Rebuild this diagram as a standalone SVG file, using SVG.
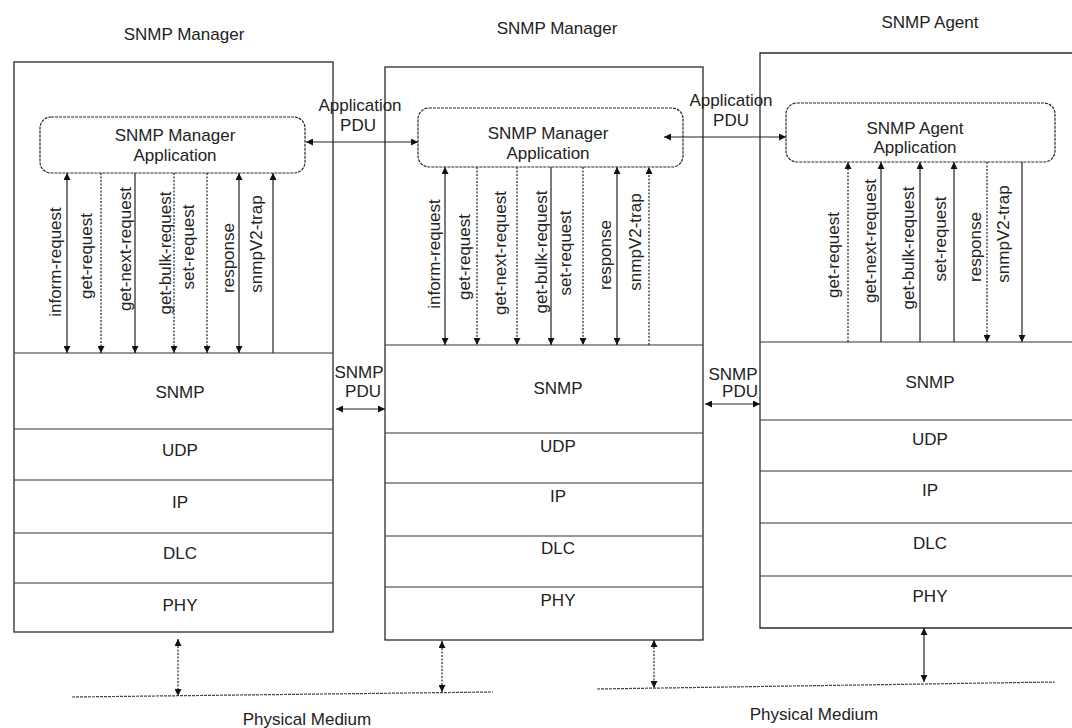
<svg xmlns="http://www.w3.org/2000/svg" width="1072" height="728" viewBox="0 0 1072 728">
<style>
text{font-family:"Liberation Sans",Arial,sans-serif;font-size:17px;fill:#222}
.c{text-anchor:middle}
.box{fill:none;stroke:#2a2a2a;stroke-width:1.3}
.app{fill:#fff;stroke:#2a2a2a;stroke-width:1.2;stroke-dasharray:3 1}
.lay{fill:none;stroke:#333;stroke-width:1.2}
.ln{fill:none;stroke:#222;stroke-width:1.2}
.dt{fill:none;stroke:#222;stroke-width:1.2;stroke-dasharray:2 1.5}
.med{fill:none;stroke:#444;stroke-width:1.2;stroke-dasharray:3 1}
</style>
<defs>
<marker id="ah" viewBox="0 0 8 8" refX="8" refY="4" markerWidth="7" markerHeight="7" orient="auto-start-reverse" markerUnits="userSpaceOnUse"><path d="M0,0 L8,4 L0,8 z" fill="#111"/></marker>
</defs>

<!-- Left SNMP Manager -->
<g id="manager1">
<text class="c" x="184" y="40">SNMP Manager</text>
<rect class="box" x="14" y="62" width="319" height="570"/>
<g id="manager1-app">
<rect class="app" x="40" y="117" width="265" height="56" rx="11"/>
<text class="c" x="175" y="141">SNMP Manager</text>
<text class="c" x="175" y="161">Application</text>
</g>
<g id="manager1-layers">
<path class="lay" d="M14,353H333M14,429H333M14,480H333M14,533H333M14,583H333"/>
<text class="c" x="180" y="398">SNMP</text>
<text class="c" x="180" y="456">UDP</text>
<text class="c" x="180" y="508">IP</text>
<text class="c" x="180" y="559">DLC</text>
<text class="c" x="180" y="611">PHY</text>
</g>
<g id="manager1-pdus">
<text class="c" transform="translate(61,262) rotate(-90)">inform-request</text>
<text class="c" transform="translate(92,256) rotate(-90)">get-request</text>
<text class="c" transform="translate(131,249) rotate(-90)">get-next-request</text>
<text class="c" transform="translate(171,253) rotate(-90)">get-bulk-request</text>
<text class="c" transform="translate(194,247) rotate(-90)">set-request</text>
<text class="c" transform="translate(234,258) rotate(-90)">response</text>
<text class="c" transform="translate(262,244) rotate(-90)">snmpV2-trap</text>
</g>
</g>

<!-- Middle SNMP Manager -->
<g id="manager2">
<text class="c" x="557" y="34">SNMP Manager</text>
<rect class="box" x="385" y="67" width="318" height="573"/>
<g id="manager2-app">
<rect class="app" x="418" y="108" width="265" height="59" rx="11"/>
<text class="c" x="548" y="139">SNMP Manager</text>
<text class="c" x="548" y="159">Application</text>
</g>
<g id="manager2-layers">
<path class="lay" d="M385,345H703M385,433H703M385,483H703M385,536H703M385,587H703"/>
<text class="c" x="558" y="394">SNMP</text>
<text class="c" x="558" y="452">UDP</text>
<text class="c" x="558" y="502">IP</text>
<text class="c" x="558" y="554">DLC</text>
<text class="c" x="558" y="606">PHY</text>
</g>
<g id="manager2-pdus">
<text class="c" transform="translate(440,254) rotate(-90)">inform-request</text>
<text class="c" transform="translate(470,257) rotate(-90)">get-request</text>
<text class="c" transform="translate(506,253) rotate(-90)">get-next-request</text>
<text class="c" transform="translate(547,252) rotate(-90)">get-bulk-request</text>
<text class="c" transform="translate(571,253) rotate(-90)">set-request</text>
<text class="c" transform="translate(611,255) rotate(-90)">response</text>
<text class="c" transform="translate(641,242) rotate(-90)">snmpV2-trap</text>
</g>
</g>

<!-- Right SNMP Agent -->
<g id="agent">
<text class="c" x="930" y="28">SNMP Agent</text>
<path class="box" d="M1072,53H760V628H1072"/>
<g id="agent-app">
<rect class="app" x="786" y="103" width="269" height="59" rx="11"/>
<text class="c" x="915" y="134">SNMP Agent</text>
<text class="c" x="915" y="153">Application</text>
</g>
<g id="agent-layers">
<path class="lay" d="M760,342H1072M760,420H1072M760,471H1072M760,523H1072M760,576H1072"/>
<text class="c" x="930" y="388">SNMP</text>
<text class="c" x="930" y="445">UDP</text>
<text class="c" x="930" y="496">IP</text>
<text class="c" x="930" y="549">DLC</text>
<text class="c" x="930" y="602">PHY</text>
</g>
<g id="agent-pdus">
<text class="c" transform="translate(839,255) rotate(-90)">get-request</text>
<text class="c" transform="translate(876,241) rotate(-90)">get-next-request</text>
<text class="c" transform="translate(914,248) rotate(-90)">get-bulk-request</text>
<text class="c" transform="translate(946,239) rotate(-90)">set-request</text>
<text class="c" transform="translate(981,247) rotate(-90)">response</text>
<text class="c" transform="translate(1009,234) rotate(-90)">snmpV2-trap</text>
</g>
</g>

<!-- Physical medium -->
<g id="medium1">
<path class="med" d="M72,697L493,692"/>
<text class="c" x="307" y="725">Physical Medium</text>
</g>
<g id="medium2">
<path class="med" d="M597,689L1055,682"/>
<text class="c" x="814" y="720">Physical Medium</text>
</g>

<g id="connectors">
<!-- manager1 PDU lines -->
<path class="ln" d="M67,173V353" marker-start="url(#ah)" marker-end="url(#ah)"/>
<path class="dt" d="M101,173V353" marker-end="url(#ah)"/>
<path class="ln" d="M135,173V353" marker-end="url(#ah)"/>
<path class="dt" d="M174,173V353" marker-end="url(#ah)"/>
<path class="dt" d="M207,173V353" marker-end="url(#ah)"/>
<path class="ln" d="M239,173V353" marker-start="url(#ah)" marker-end="url(#ah)"/>
<path class="ln" d="M273,353V173" marker-end="url(#ah)"/>
<!-- manager2 PDU lines -->
<path class="ln" d="M445,167V345" marker-start="url(#ah)" marker-end="url(#ah)"/>
<path class="dt" d="M477,167V345" marker-end="url(#ah)"/>
<path class="dt" d="M517,167V345" marker-end="url(#ah)"/>
<path class="ln" d="M551,167V345" marker-end="url(#ah)"/>
<path class="dt" d="M583,167V345" marker-end="url(#ah)"/>
<path class="ln" d="M617,167V345" marker-start="url(#ah)" marker-end="url(#ah)"/>
<path class="dt" d="M649,345V167" marker-end="url(#ah)"/>
<!-- agent PDU lines -->
<path class="dt" d="M848,342V162" marker-end="url(#ah)"/>
<path class="ln" d="M881,342V162" marker-end="url(#ah)"/>
<path class="ln" d="M920,342V162" marker-end="url(#ah)"/>
<path class="ln" d="M954,342V162" marker-end="url(#ah)"/>
<path class="dt" d="M987,162V342" marker-end="url(#ah)"/>
<path class="ln" d="M1022,162V342" marker-end="url(#ah)"/>
<!-- Application PDU -->
<path class="ln" d="M306,142H418" marker-start="url(#ah)" marker-end="url(#ah)"/>
<text class="c" x="360" y="111">Application</text>
<text class="c" x="358" y="131">PDU</text>
<path class="ln" d="M664,137H786" marker-start="url(#ah)" marker-end="url(#ah)"/>
<text class="c" x="731" y="106">Application</text>
<text class="c" x="731" y="126">PDU</text>
<!-- SNMP PDU -->
<path class="ln" d="M336,409H385" marker-start="url(#ah)" marker-end="url(#ah)"/>
<text class="c" x="359" y="378">SNMP</text>
<text class="c" x="363" y="397">PDU</text>
<path class="ln" d="M705,404H760" marker-start="url(#ah)" marker-end="url(#ah)"/>
<text class="c" x="733" y="380">SNMP</text>
<text class="c" x="740" y="397">PDU</text>
<!-- to physical medium -->
<path class="dt" d="M178,639V696" marker-start="url(#ah)" marker-end="url(#ah)"/>
<path class="dt" d="M442,641V692" marker-start="url(#ah)" marker-end="url(#ah)"/>
<path class="dt" d="M654,640V688" marker-start="url(#ah)" marker-end="url(#ah)"/>
<path class="ln" d="M924,628V682" marker-start="url(#ah)" marker-end="url(#ah)"/>
</g>
</svg>
